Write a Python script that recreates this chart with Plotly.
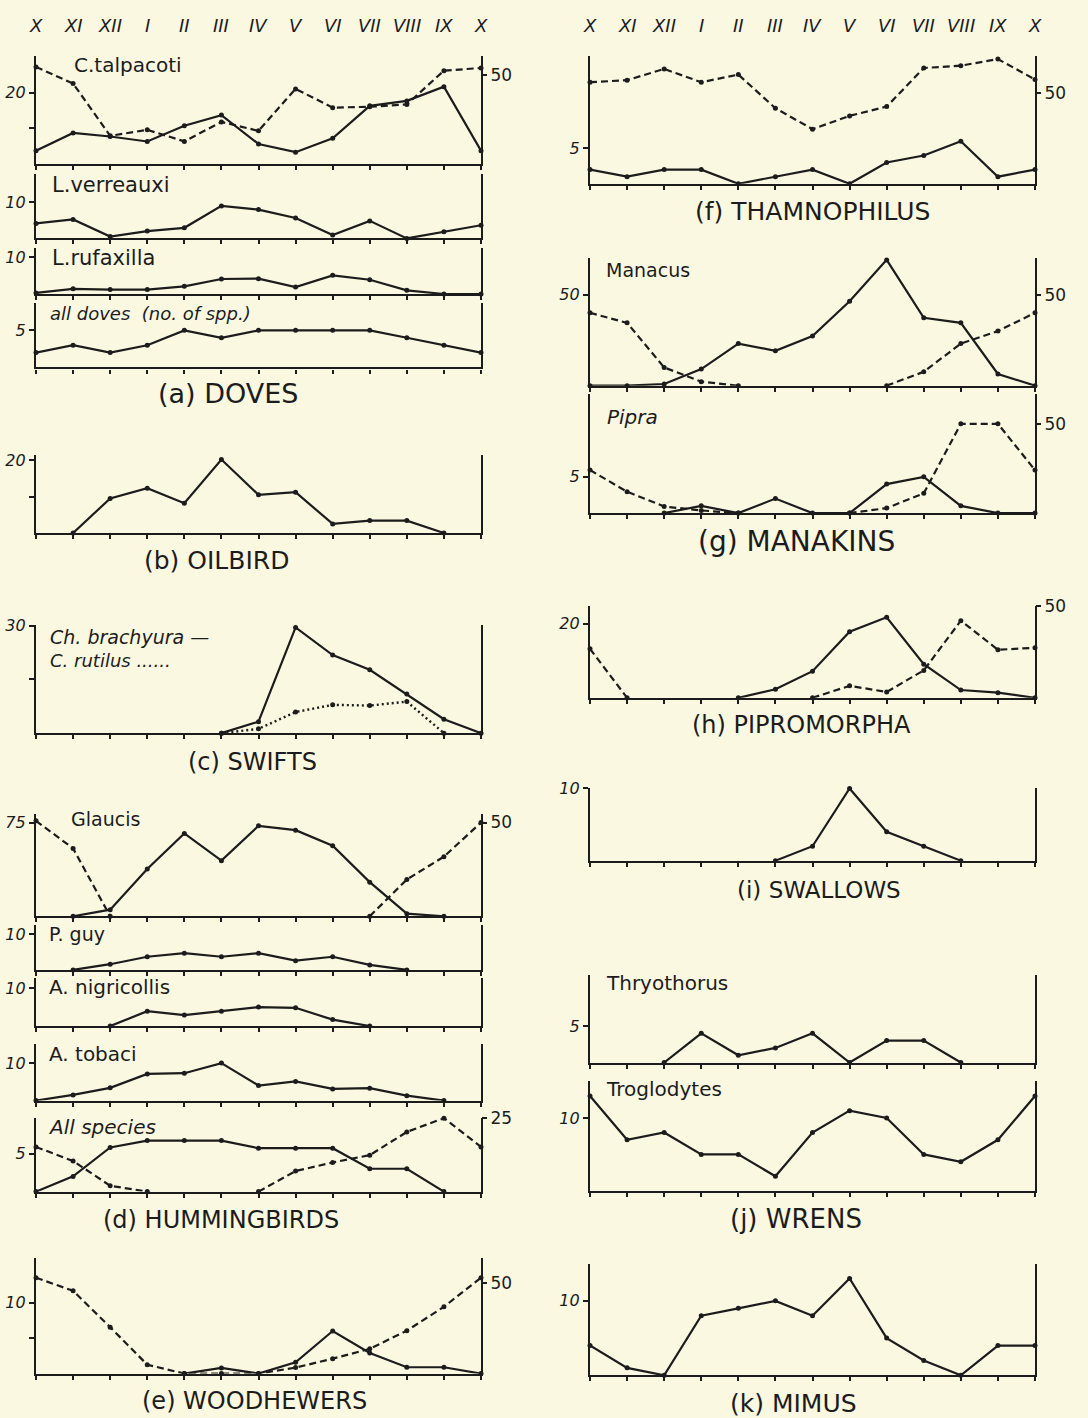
import plotly.graph_objects as go

N = None
MONTHS = ["X", "XI", "XII", "I", "II", "III", "IV", "V", "VI", "VII", "VIII", "IX", "X"]

# ---------------- data (left column) ----------------
talpacoti_count = [3.7, 8.7, 7.7, 6.3, 10.7, 13.7, 5.6, 3.3, 7.2, 16.3, 17.7, 21.7, 3.7]
talpacoti_pct = [54.3, 45, 15.7, 19.1, 12.6, 23.5, 18.5, 42, 31.5, 32, 33.3, 52.2, 53.7]
verreauxi = [4.1, 5.2, 0.5, 2.0, 2.9, 8.9, 7.9, 5.6, 0.9, 4.8, 0, 1.8, 3.6]
rufaxilla = [0.3, 1.4, 1.2, 1.2, 2.1, 4.1, 4.2, 1.9, 5.1, 3.9, 1.0, 0, 0]
all_doves_spp = [2, 3, 2, 3, 5, 4, 5, 5, 5, 5, 4, 3, 2]
oilbird = [N, 0, 9.5, 12.3, 8.2, 20.2, 10.5, 11.2, 2.5, 3.4, 3.4, 0, N]
brachyura = [N, N, N, N, N, 0, 3.2, 29.5, 21.8, 17.7, 10.9, 3.9, 0]
rutilus = [N, N, N, N, N, 0, 1.2, 5.9, 7.9, 7.7, 8.8, 0, N]
glaucis_count = [N, 0, 5.3, 37.9, 66.3, 44.5, 72.4, 68.9, 56.5, 27.3, 2.1, 0, N]
glaucis_pct = [50.9, 36.2, 0, N, N, N, N, N, N, 0, 19.6, 31.8, 50]
p_guy = [N, 0, 1.6, 3.7, 4.7, 3.7, 4.7, 2.6, 3.7, 1.4, 0, N, N]
nigricollis = [N, N, 0, 3.9, 2.9, 3.9, 5.0, 4.8, 1.7, 0, N, N, N]
tobaci = [0, 1.5, 3.4, 7.1, 7.3, 10, 4.0, 5.1, 3.1, 3.3, 1.3, 0, N]
hummers_spp = [0, 2.0, 5.8, 6.7, 6.7, 6.7, 5.7, 5.7, 5.7, 3.0, 3.0, 0, N]
hummers_pct = [15.2, 10.4, 2.0, 0, N, N, 0, 7.0, 9.9, 12.4, 20.3, 25, 15.2]
woodhewer_count = [N, N, N, N, 0, 0.8, 0, 1.6, 6.0, 2.9, 0.9, 0.9, 0]
woodhewer_pct = [52.7, 45.5, 25.5, 4.9, 0, 0, 0, 3.3, 8.2, 13.6, 23.6, 36.7, 52.7]

# ---------------- data (right column) ----------------
thamno_count = [2, 1, 2, 2, 0, 1, 2, 0, 3, 4, 6, 1, 2]
thamno_pct = [55.8, 56.9, 63.1, 55.8, 60, 41.5, 30, 37.3, 42.4, 63.6, 64.9, 68.5, 57.3]
manacus_count = [0, 0, 0.9, 9.1, 23.1, 19.1, 27.3, 46.4, 69.1, 37.3, 34.5, 6.4, 0]
manacus_pct = [40, 34.5, 10, 2.2, 0, N, N, N, 0, 7.6, 23.1, 30, 40]
pipra_count = [N, N, 0, 1, 0, 2, 0, 0, 4, 5, 1, 0, 0]
pipra_pct = [24.1, 12, 3.7, 1.5, 0, N, N, 0, 2.8, 11.1, 50, 50, 24.1]
pipromorpha_count = [N, N, N, N, 0, 2.3, 7.2, 17.9, 21.8, 9.1, 2.1, 1.4, 0]
pipromorpha_pct = [26.6, 0, N, N, N, N, 0, 6.5, 3.2, 14.9, 41.9, 26.1, 27.2]
swallows = [N, N, N, N, N, 0, 2, 10, 4, 2, 0, N, N]
thryothorus = [N, N, 0, 4, 1, 2, 4, 0, 3, 3, 0, N, N]
troglodytes = [13, 7, 8, 5, 5, 2, 8, 11, 10, 5, 4, 7, 13]
mimus = [4, 1, 0, 8, 9, 10, 8, 13, 5, 2, 0, 4, 4]

# ---------------- layout / style ----------------
W, H = 1088, 1418
BG = "#FBF8E1"
INK = "#1c1c1c"
FAM = "DejaVu Sans"
COLS = {"L": (36, 481), "R": (590, 1035)}
DASH = "7px,4px"
DOT = "2px,3px"
TICKFONT = dict(family=FAM, size=16, color=INK, style="italic")

# panel: column, top px, bottom px, left max, left ticks, left labels,
#        right max, right ticks, series [(values, side, dash)]
panels = [
    ("L", 46.7, 155, 30.2, [10, 20], ["", "20"], 60.2, [50],
     [(talpacoti_count, "L", "solid"), (talpacoti_pct, "R", DASH)]),
    ("L", 165, 230, 17.7, [10], ["10"], None, None, [(verreauxi, "L", "solid")]),
    ("L", 239.3, 286, 12.7, [10], ["10"], None, None, [(rufaxilla, "L", "solid")]),
    ("L", 295, 360, 8.7, [5], ["5"], None, None, [(all_doves_spp, "L", "solid")]),
    ("L", 448.3, 526.7, 21.4, [10, 20], ["", "20"], None, None, [(oilbird, "L", "solid")]),
    ("L", 619.3, 728.3, 30.2, [15, 30], ["", "30"], None, None,
     [(brachyura, "L", "solid"), (rutilus, "L", DOT)]),
    ("L", 810, 912.7, 81.6, [75], ["75"], 54.4, [50],
     [(glaucis_count, "L", "solid"), (glaucis_pct, "R", DASH)]),
    ("L", 921.7, 966.7, 12.6, [10], ["10"], None, None, [(p_guy, "L", "solid")]),
    ("L", 975, 1023.3, 12.6, [10], ["10"], None, None, [(nigricollis, "L", "solid")]),
    ("L", 1041.7, 1098.3, 15.0, [10], ["10"], None, None, [(tobaci, "L", "solid")]),
    ("L", 1116, 1190, 9.65, [5], ["5"], 25, [25],
     [(hummers_spp, "L", "solid"), (hummers_pct, "R", DASH)]),
    ("L", 1256.7, 1373.3, 16.3, [5, 10], ["", "10"], 63.6, [50],
     [(woodhewer_count, "L", "solid"), (woodhewer_pct, "R", DASH)]),
    ("R", 46.7, 175, 18, [5], ["5"], 70, [50],
     [(thamno_count, "L", "solid"), (thamno_pct, "R", DASH)]),
    ("R", 250, 378.3, 70, [50], ["50"], 70, [50],
     [(manacus_count, "L", "solid"), (manacus_pct, "R", DASH)]),
    ("R", 386.7, 506.7, 16.4, [5], ["5"], 66.7, [50],
     [(pipra_count, "L", "solid"), (pipra_pct, "R", DASH)]),
    ("R", 600, 692.7, 24.9, [20], ["20"], 50, [50],
     [(pipromorpha_count, "L", "solid"), (pipromorpha_pct, "R", DASH)]),
    ("R", 784, 856.7, 10, [10], ["10"], None, None, [(swallows, "L", "solid")]),
    ("R", 971.7, 1060, 12, [5], ["5"], None, None, [(thryothorus, "L", "solid")]),
    ("R", 1078.3, 1189.3, 15.1, [10], ["10"], None, None, [(troglodytes, "L", "solid")]),
    ("R", 1263.3, 1375, 14.9, [10], ["10"], None, None, [(mimus, "L", "solid")]),
]


def ref(prefix, n):
    return prefix if n == 1 else f"{prefix}{n}"


def key(prefix, n):
    return f"{prefix}axis" if n == 1 else f"{prefix}axis{n}"


fig = go.Figure()
lay = {}
xs = list(range(len(MONTHS)))
sec = len(panels)

for i, (col, top, bot, lmax, lt, ltt, rmax, rt, series) in enumerate(panels, start=1):
    x0, x1 = COLS[col]
    xr, yr = ref("x", i), ref("y", i)
    lay[key("x", i)] = dict(
        domain=[x0 / W, x1 / W], anchor=yr, range=[0, 12], showline=True,
        linecolor=INK, linewidth=2.2, ticks="outside", tickvals=xs, ticklen=4,
        tickwidth=1.5, tickcolor=INK, showticklabels=False, showgrid=False,
        zeroline=False, fixedrange=True)
    lay[key("y", i)] = dict(
        domain=[1 - bot / H, 1 - top / H], anchor=xr, range=[0, lmax],
        showline=True, mirror=True, linecolor=INK, linewidth=2.2,
        ticks="outside", tickvals=lt, ticktext=ltt, ticklen=5, tickwidth=1.5,
        tickcolor=INK, tickfont=TICKFONT, showgrid=False, zeroline=False,
        fixedrange=True)
    y2 = None
    if rmax is not None:
        sec += 1
        y2 = ref("y", sec)
        lay[key("y", sec)] = dict(
            overlaying=yr, side="right", anchor=xr, range=[0, rmax],
            showline=False, ticks="outside", tickvals=rt,
            ticktext=[str(v) for v in rt], ticklen=5, tickwidth=1.5,
            tickcolor=INK, tickfont=dict(family=FAM, size=17, color=INK),
            showgrid=False, zeroline=False, fixedrange=True)
    for vals, side, dash in series:
        fig.add_trace(go.Scatter(
            x=xs, y=vals, xaxis=xr, yaxis=(y2 if side == "R" else yr),
            mode="lines+markers", connectgaps=False, cliponaxis=False,
            line=dict(color=INK, width=2.2 if dash != DOT else 2.4, dash=dash),
            marker=dict(size=5, color=INK), showlegend=False, hoverinfo="skip"))

annotations = []


def txt(text, x, y, size, anchor="left", style="normal"):
    annotations.append(dict(text=text, x=x / W, y=1 - y / H, xref="paper",
                            yref="paper", xanchor=anchor, yanchor="middle",
                            showarrow=False,
                            font=dict(family=FAM, size=size, color=INK, style=style)))


for c in ("L", "R"):
    x0, x1 = COLS[c]
    step = (x1 - x0) / 12
    for j, m in enumerate(MONTHS):
        txt(m, x0 + j * step, 16, 18, "center", "italic")

# text, x px, y px, font size, style
labels = [
    ("C.talpacoti", 72, 55, 20, "normal"),
    ("L.verreauxi", 50, 176, 21, "normal"),
    ("L.rufaxilla", 50, 250, 21, "normal"),
    ("all doves  (no. of spp.)", 48, 306, 18, "italic"),
    ("Ch. brachyura —", 48, 631, 19, "italic"),
    ("C. rutilus ......", 48, 655, 18, "italic"),
    ("Glaucis", 69, 815, 19, "normal"),
    ("P. guy", 47, 931, 19, "normal"),
    ("A. nigricollis", 47, 984, 20, "normal"),
    ("A. tobaci", 47, 1051, 20, "normal"),
    ("All species", 46, 1125, 20, "italic"),
    ("Manacus", 604, 262, 19, "normal"),
    ("Pipra", 605, 410, 20, "italic"),
    ("Thryothorus", 604, 980, 20, "normal"),
    ("Troglodytes", 604, 1087, 20, "normal"),
]
for t, x, y, s, st in labels:
    txt(t, x, y, s, "left", st)

titles = [
    ("(a) DOVES", 228, 386, 27), ("(b) OILBIRD", 216, 554, 25),
    ("(c) SWIFTS", 252, 757, 24), ("(d) HUMMINGBIRDS", 221, 1219, 24),
    ("(e) WOODHEWERS", 254, 1401, 24), ("(f) THAMNOPHILUS", 812, 203, 25),
    ("(g) MANAKINS", 796, 535, 28), ("(h) PIPROMORPHA", 801, 720, 24),
    ("(i) SWALLOWS", 819, 886, 23), ("(j) WRENS", 796, 1218, 26),
    ("(k) MIMUS", 793, 1403, 25),
]
for t, x, y, s in titles:
    txt(t, x, y, s, "center")

fig.update_layout(
    width=W, height=H, margin=dict(l=0, r=0, t=0, b=0),
    paper_bgcolor=BG, plot_bgcolor=BG, showlegend=False,
    annotations=annotations, **lay)

fig.write_html("out.html", config={"displayModeBar": False},
               post_script="document.body.style.margin='0';"
                           "document.body.style.background='#FBF8E1';")
